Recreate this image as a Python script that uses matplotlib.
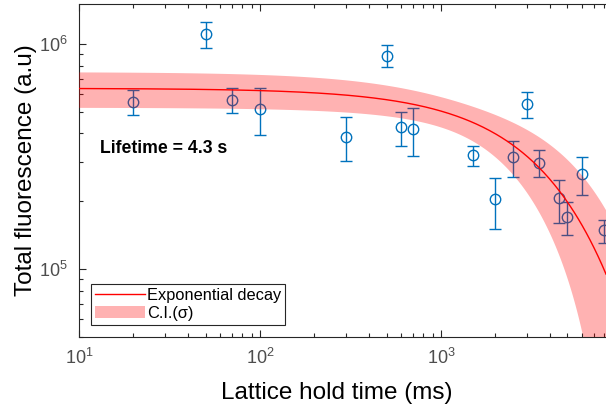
import numpy as np
import matplotlib
matplotlib.use("Agg")
import matplotlib.pyplot as plt
from matplotlib.ticker import LogLocator, NullFormatter

plt.rcParams['font.family'] = ['Liberation Sans', 'DejaVu Sans']
plt.rcParams['mathtext.fontset'] = 'custom'
plt.rcParams['mathtext.rm'] = 'Liberation Sans'
plt.rcParams['mathtext.it'] = 'Liberation Sans:italic'

# Measured data (hold time in ms, fluorescence in a.u.)
hold_time = [20, 50, 70, 100, 300, 500, 600, 700, 1500, 2000, 2500, 3000,
             3500, 4500, 5000, 6000, 8000]
fluor = [5.54e5, 1.107e6, 5.65e5, 5.15e5, 3.85e5, 8.85e5, 4.25e5, 4.19e5,
         3.20e5, 2.04e5, 3.14e5, 5.38e5, 2.96e5, 2.06e5, 1.70e5, 2.65e5, 1.49e5]
err_upper = [6.26e5, 1.25e6, 6.38e5, 6.38e5, 4.71e5, 9.83e5, 4.97e5, 5.17e5,
             3.53e5, 2.54e5, 3.70e5, 6.11e5, 3.39e5, 2.49e5, 1.98e5, 3.13e5, 1.66e5]
err_lower = [4.85e5, 9.60e5, 4.95e5, 3.95e5, 3.03e5, 7.89e5, 3.51e5, 3.19e5,
             2.88e5, 1.50e5, 2.55e5, 4.69e5, 2.55e5, 1.60e5, 1.42e5, 2.14e5, 1.30e5]

# Exponential decay fit parameters (amplitude, lifetime in ms) and uncertainties
fit_amp = 6.34e5
fit_tau = 4300.0
fit_amp_err = 1.14e5
fit_tau_err = 2280.0
fit_corr = -0.54

x_lim = (10, 8160)
y_lim = (5e4, 1.5e6)

fig = plt.figure(figsize=(6.06, 4.08), dpi=100)
ax = fig.add_axes([79/606, 71/408, 1 - 79/606, (337 - 4)/408])

hold_time = np.array(hold_time, float)
fluor = np.array(fluor)
yerr = np.vstack([fluor - np.array(err_lower), np.array(err_upper) - fluor])

blue = '#0072BD'
ax.errorbar(hold_time, fluor, yerr=yerr, fmt='o', mfc='none', mec=blue,
            ecolor=blue, color=blue, ms=7.5, mew=1.0, elinewidth=1.0,
            capsize=4.5, capthick=1.0, zorder=2, clip_on=True)

t = np.logspace(np.log10(x_lim[0]), np.log10(x_lim[1]), 400)
e = np.exp(-t / fit_tau)
y_fit = fit_amp * e
a = fit_amp_err * e
b = fit_amp * t / fit_tau**2 * e * fit_tau_err
sig = np.sqrt(a**2 + b**2 + 2 * fit_corr * a * b)
lower = np.clip(y_fit - sig, 1e3, None)
upper = y_fit + sig

band = ax.fill_between(t, lower, upper, color='red', alpha=0.3, lw=0,
                       zorder=3, label='C.I.(σ)')
line, = ax.plot(t, y_fit, color='red', lw=1.0, zorder=4,
                label='Exponential decay')

ax.set_xscale('log')
ax.set_yscale('log')
ax.set_xlim(*x_lim)
ax.set_ylim(*y_lim)

ax.xaxis.set_major_locator(LogLocator(base=10, numticks=10))
ax.xaxis.set_minor_locator(LogLocator(base=10, subs=np.arange(2, 10), numticks=20))
ax.yaxis.set_major_locator(LogLocator(base=10, numticks=10))
ax.yaxis.set_minor_locator(LogLocator(base=10, subs=np.arange(2, 10), numticks=20))
ax.xaxis.set_minor_formatter(NullFormatter())
ax.yaxis.set_minor_formatter(NullFormatter())

gray = '#262626'
for s in ['left', 'bottom', 'top']:
    ax.spines[s].set_color(gray)
    ax.spines[s].set_linewidth(0.8)
ax.spines['right'].set_visible(False)
ax.tick_params(which='both', direction='in', top=True, right=False,
               color=gray, width=0.8, labelsize=13, labelcolor='#4d4d4d')
ax.tick_params(which='major', length=5, pad=8)
ax.tick_params(which='minor', length=3)

ax.set_xlabel('Lattice hold time (ms)', fontsize=17.5, color='black')
ax.set_ylabel('Total fluorescence (a.u)', fontsize=17.5, color='black')
ax.xaxis.set_label_coords(0.4886, -0.135)
ax.yaxis.set_label_coords(-0.08, 0.5)

ax.text(0.04, 0.565, 'Lifetime = 4.3 s', transform=ax.transAxes,
        fontsize=12.7, fontweight='bold', va='center', ha='left')

leg = ax.legend(handles=[line, band], loc='lower left', fontsize=11.8,
                frameon=True, fancybox=False, edgecolor=gray, framealpha=1,
                borderpad=0.25, handlelength=3.0, handletextpad=0.15,
                labelspacing=0.15, borderaxespad=0.75)
leg.get_frame().set_linewidth(0.8)

fig.savefig('out.png', dpi=100)
